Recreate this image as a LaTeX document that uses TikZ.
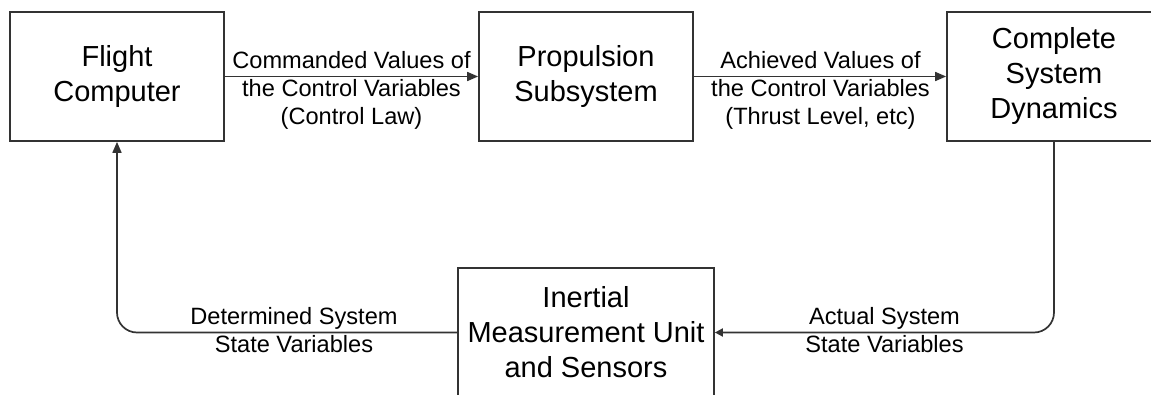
\documentclass[tikz,border=0pt]{standalone}
\usepackage{fontspec}
\setmainfont{Liberation Sans}
\usetikzlibrary{positioning,arrows.meta}

\begin{document}
\begin{tikzpicture}[x=1pt,y=1pt,
    boite/.style={draw=black!80,line width=1.7pt,minimum width=214,align=center,
        inner sep=0pt,font={\fontsize{29}{35}\selectfont}},
    etiq/.style={align=center,inner sep=0pt,font={\fontsize{23.6}{28}\selectfont}},
    fleche/.style={draw=black!80,line width=1.7pt,-{Triangle[length=11pt,width=9pt]}},
    petite/.style={draw=black!80,line width=1.7pt,-{Triangle[length=8pt,width=8pt]}}]
    \useasboundingbox (0,0) rectangle (1151,394);
    \clip (0,0) rectangle (1151,394);

    % Blocs du haut
    \node[boite,minimum height=129] (fc) at (117,317.5) {Flight\\Computer};
    \node[boite,minimum height=129] (ps) at (586,317.5) {Propulsion\\Subsystem};
    \node[boite,minimum height=129] (cd) at (1054,317.5) {Complete\\System\\Dynamics};

    % Bloc du bas
    \node[boite,minimum width=256,minimum height=129] (imu) at (586,61.5)
        {Inertial\\Measurement Unit\\and Sensors};

    % Liaisons
    \draw[fleche] (fc.east) -- (ps.west);
    \draw[fleche] (ps.east) -- (cd.west);
    \draw[petite,rounded corners=20] (cd.south) |- (imu.east);
    \draw[fleche,rounded corners=20] (imu.west) -| (fc.south);

    % Etiquettes
    \node[etiq] (cmd) at (351.5,303.5) {Commanded Values of\\the Control Variables\\(Control Law)};
    \node[etiq] (ach) at (820.5,303.5) {Achieved Values of\\the Control Variables\\(Thrust Level, etc)};
    \node[etiq] (act) at (884.5,63.5) {Actual System\\State Variables};
    \node[etiq] (det) at (294,63.5) {Determined System\\State Variables};
\end{tikzpicture}
\end{document}
